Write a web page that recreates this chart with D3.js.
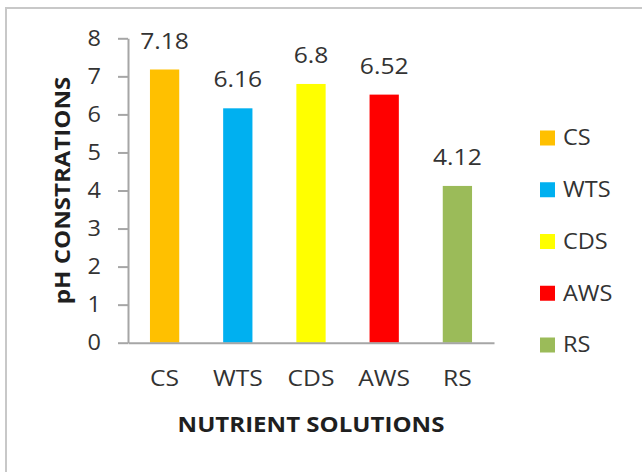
<!DOCTYPE html>
<html>
<head>
<meta charset="utf-8">
<script src="https://cdn.jsdelivr.net/npm/d3@7"></script>
<style>
  html, body { margin: 0; padding: 0; background: #fff; }
  svg { display: block; }
  text { font-family: "Open Sans", "Liberation Sans", sans-serif; }
</style>
</head>
<body>
<svg id="chart" width="642" height="472"></svg>
<script>
// Nutrient solutions and their measured pH
const categories = ["CS", "WTS", "CDS", "AWS", "RS"];
const phValues = [7.18, 6.16, 6.8, 6.52, 4.12];
const barColors = ["#FFC000", "#00B0F0", "#FFFF00", "#FF0000", "#9BBB59"];
const yTicks = [0, 1, 2, 3, 4, 5, 6, 7, 8];
const xTitle = "NUTRIENT SOLUTIONS";
const yTitle = "pH CONSTRATIONS";

const W = 642, H = 472;
const plot = { left: 128, right: 494, top: 38.3, bottom: 342.7 };
const SX = 1.12;           // horizontal widening of the glyphs
const textColor = "#333333";
const titleColor = "#1f1f1f";
const axisColor = "#a6a6a6";

const svg = d3.select("#chart");

// outer frame
svg.append("rect")
  .attr("x", 6).attr("y", 8)
  .attr("width", W + 20).attr("height", H + 20)
  .attr("fill", "none")
  .attr("stroke", "#c8c8c8")
  .attr("stroke-width", 2);

const x = d3.scaleBand()
  .domain(categories)
  .range([plot.left, plot.right])
  .paddingInner(0.6)
  .paddingOuter(0.3);

const y = d3.scaleLinear()
  .domain([0, 8])
  .range([plot.bottom, plot.top]);

const color = d3.scaleOrdinal().domain(categories).range(barColors);

// bars
svg.append("g").selectAll("rect")
  .data(categories)
  .join("rect")
  .attr("x", d => x(d))
  .attr("width", x.bandwidth())
  .attr("y", (d, i) => y(phValues[i]))
  .attr("height", (d, i) => y(0) - y(phValues[i]))
  .attr("fill", d => color(d));

// widen text along its own reading direction
function widen(sel) {
  sel.each(function () {
    const t = d3.select(this);
    const tx = +t.attr("x") || 0;
    const ty = +t.attr("y") || 0;
    t.attr("x", 0).attr("y", 0)
      .attr("transform", `translate(${tx},${ty}) scale(${SX},1)`);
  });
}

// y axis
const yAxis = svg.append("g")
  .attr("transform", `translate(${plot.left},0)`)
  .call(d3.axisLeft(y).tickValues(yTicks).tickFormat(d3.format("d"))
    .tickSize(10).tickSizeOuter(0).tickPadding(17));
yAxis.select(".domain").attr("stroke", axisColor).attr("stroke-width", 2);
yAxis.selectAll(".tick line").attr("stroke", axisColor).attr("stroke-width", 2);
yAxis.selectAll(".tick text")
  .attr("fill", textColor)
  .style("font-size", "21px")
  .call(widen);

// x axis
const xAxis = svg.append("g")
  .attr("transform", `translate(0,${plot.bottom})`)
  .call(d3.axisBottom(x).tickSize(0).tickSizeOuter(0).tickPadding(28));
xAxis.select(".domain").attr("stroke", axisColor).attr("stroke-width", 2);
xAxis.selectAll(".tick text")
  .attr("fill", textColor)
  .style("font-size", "22px")
  .call(widen);

// value labels above bars
svg.append("g").selectAll("text")
  .data(categories)
  .join("text")
  .attr("text-anchor", "middle")
  .attr("fill", textColor)
  .style("font-size", "22px")
  .attr("transform", (d, i) =>
    `translate(${x(d) + x.bandwidth() / 2},${y(phValues[i]) - 21}) scale(${SX},1)`)
  .text((d, i) => phValues[i]);

// axis titles
svg.append("text")
  .attr("text-anchor", "middle")
  .attr("fill", titleColor)
  .style("font-size", "21.5px")
  .style("font-weight", "bold")
  .attr("transform", `translate(${(plot.left + plot.right) / 2},432) scale(${SX},1)`)
  .text(xTitle);

svg.append("text")
  .attr("text-anchor", "middle")
  .attr("fill", titleColor)
  .style("font-size", "21.5px")
  .style("font-weight", "bold")
  .attr("transform", `translate(70,${(plot.top + plot.bottom) / 2}) rotate(-90) scale(${SX},1)`)
  .text(yTitle);

// legend
const legend = svg.append("g").attr("transform", "translate(540,138)");
const item = legend.selectAll("g")
  .data(categories)
  .join("g")
  .attr("transform", (d, i) => `translate(0,${i * 51.75})`);
item.append("rect")
  .attr("x", 0).attr("y", -7.5)
  .attr("width", 15).attr("height", 15)
  .attr("fill", d => color(d));
item.append("text")
  .attr("fill", textColor)
  .style("font-size", "21px")
  .attr("dy", "0.35em")
  .attr("transform", `translate(23,0) scale(${SX},1)`)
  .text(d => d);
</script>
</body>
</html>
